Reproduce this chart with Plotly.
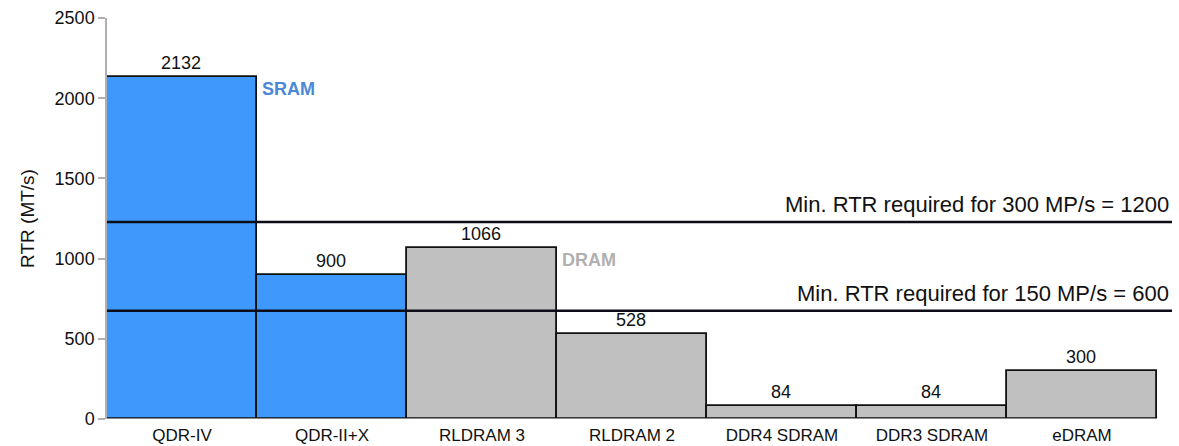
import plotly.graph_objects as go

categories = ["QDR-IV", "QDR-II+X", "RLDRAM 3", "RLDRAM 2", "DDR4 SDRAM", "DDR3 SDRAM", "eDRAM"]
rtr_values = [2132, 900, 1066, 528, 84, 84, 300]
memory_type = ["SRAM", "SRAM", "DRAM", "DRAM", "DRAM", "DRAM", "DRAM"]
threshold_labels = ["Min. RTR required for 300 MP/s = 1200", "Min. RTR required for 150 MP/s = 600"]
threshold_positions = [1228, 675]
y_ticks = [0, 500, 1000, 1500, 2000, 2500]

type_colors = {"SRAM": "#3F99FC", "DRAM": "#C0C0C0"}
colors = [type_colors[t] for t in memory_type]
FONT = "Liberation Sans, Arial, sans-serif"

fig = go.Figure()
fig.add_trace(go.Bar(
    x=list(range(len(categories))), y=rtr_values,
    width=1,
    marker=dict(color=colors, line=dict(color="#111111", width=1.8)),
    text=[str(v) for v in rtr_values], textposition="outside",
    textfont=dict(family=FONT, size=18, color="#111111"),
    cliponaxis=False,
))

shapes = []
annotations = []
for lbl, yv in zip(threshold_labels, threshold_positions):
    shapes.append(dict(type="line", xref="paper", x0=0, x1=1, yref="y", y0=yv, y1=yv,
                       line=dict(color="#0d0d1a", width=2.5), layer="above"))
    annotations.append(dict(xref="paper", x=1, yref="y", y=yv, text=lbl, showarrow=False,
                            xanchor="right", yanchor="bottom", yshift=3, xshift=-1,
                            font=dict(family=FONT, size=22, color="#111111")))
# baseline
shapes.append(dict(type="line", xref="x", x0=-0.55, x1=6.5, yref="y", y0=0, y1=0,
                   line=dict(color="#888888", width=2), layer="above"))

# group labels
annotations.append(dict(x=0.5, y=2132, xref="x", yref="y", text="<b>SRAM</b>", showarrow=False,
                        xanchor="left", yanchor="top", xshift=3, yshift=0,
                        font=dict(family=FONT, size=18, color="#4A88D8")))
annotations.append(dict(x=2.5, y=1066, xref="x", yref="y", text="<b>DRAM</b>", showarrow=False,
                        xanchor="left", yanchor="top", xshift=3, yshift=0,
                        font=dict(family=FONT, size=18, color="#B0B0B0")))

fig.update_layout(
    width=1179, height=446,
    margin=dict(l=107, r=7, t=18, b=27),
    plot_bgcolor="white", paper_bgcolor="white",
    bargap=0, showlegend=False,
    shapes=shapes, annotations=annotations,
    font=dict(family=FONT, color="#111111"),
)
fig.update_xaxes(
    range=[-0.5, 6.6], tickmode="array", tickvals=list(range(len(categories))), ticktext=categories,
    showgrid=False, zeroline=False, showline=False, ticks="",
    tickfont=dict(size=17, color="#111111", family=FONT), ticklabelstandoff=4, automargin=False,
)
fig.update_yaxes(
    range=[0, 2500], tickvals=y_ticks, showgrid=False, zeroline=False,
    showline=True, linecolor="#b0b0b0", linewidth=1.5,
    ticks="outside", ticklen=7, tickcolor="#b0b0b0", tickwidth=1.5,
    tickfont=dict(size=18, color="#111111"), automargin=False,
    title=dict(text="RTR (MT/s)", font=dict(size=19, color="#111111"), standoff=15),
)

fig.write_html("out.html", config={"displayModeBar": False},
               post_script="document.body.style.margin='0';document.body.style.overflow='hidden';")
